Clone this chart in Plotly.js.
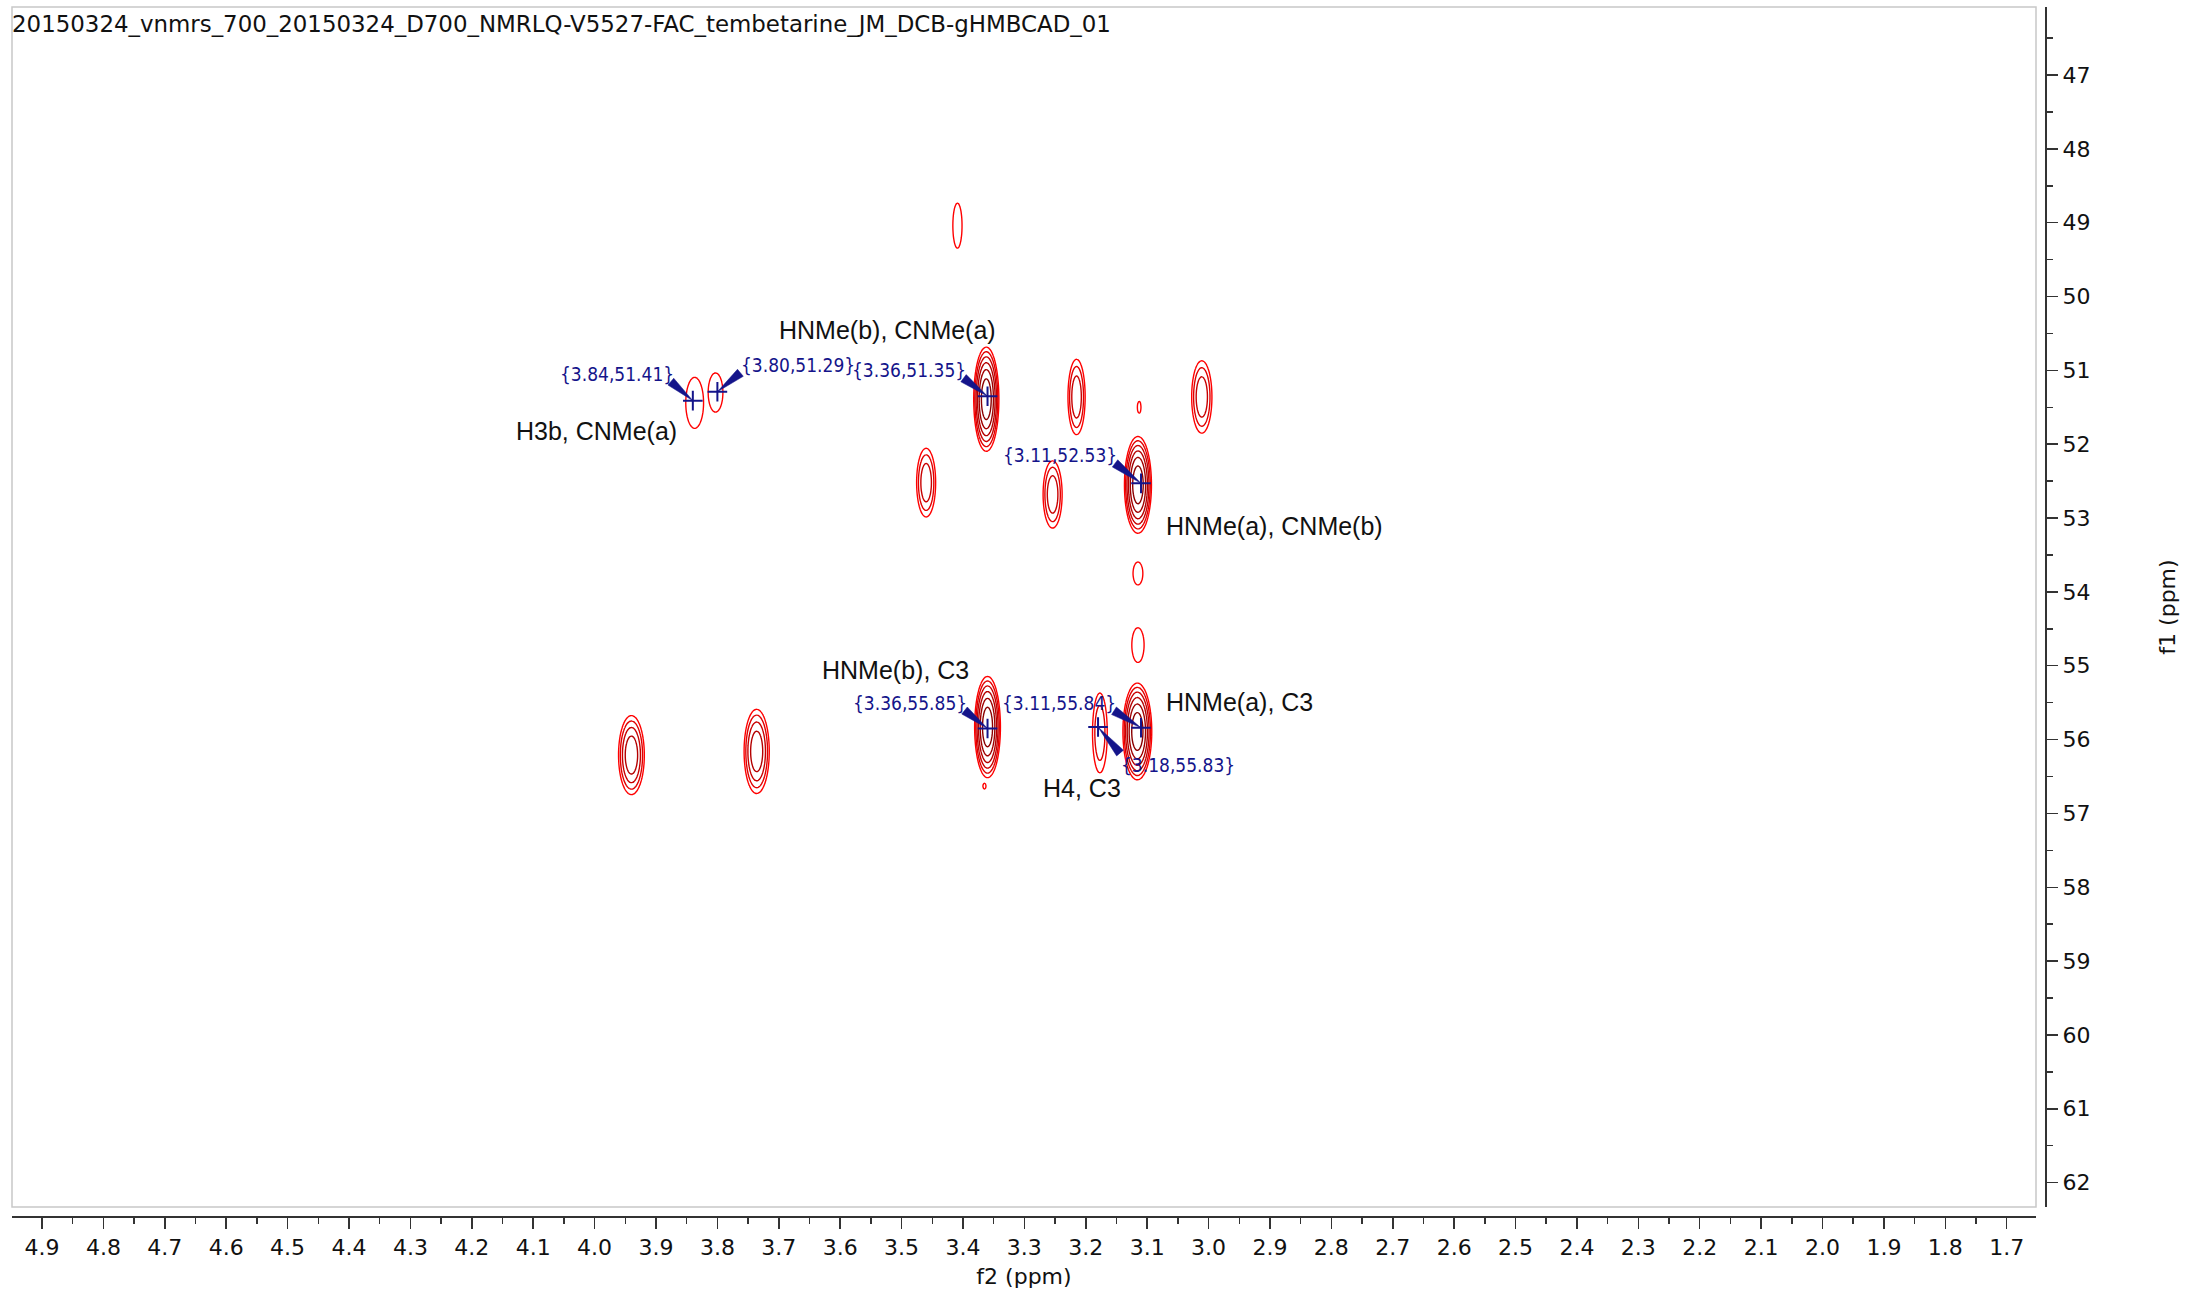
<!DOCTYPE html>
<html><head><meta charset="utf-8">
<script src="https://cdn.plot.ly/plotly-3.0.1.min.js"></script>
<style>html,body{margin:0;padding:0;background:#fff}#chart{width:2186px;height:1296px}</style>
</head><body><div id="chart"></div>
<script>
const titleText = '20150324_vnmrs_700_20150324_D700_NMRLQ-V5527-FAC_tembetarine_JM_DCB-gHMBCAD_01';

// Cross peaks: f2 (ppm), f1 (ppm), number of contour rings,
// outer contour width along f2 and f1 (ppm)
const peakF2      = [3.409, 3.837, 3.803, 3.362, 3.215, 3.011, 3.113, 3.460, 3.254, 3.115, 3.115, 3.115, 3.940, 3.736, 3.360, 3.177, 3.116, 3.365];
const peakF1      = [49.04, 51.44, 51.30, 51.39, 51.36, 51.36, 51.50, 52.52, 52.68, 52.55, 53.75, 54.72, 56.21, 56.16, 55.83, 55.91, 55.89, 56.63];
const peakRings   = [1, 1, 1, 6, 3, 3, 1, 3, 3, 6, 1, 1, 4, 4, 6, 2, 6, 1];
const peakWidthF2 = [0.015, 0.029, 0.024, 0.041, 0.028, 0.033, 0.006, 0.031, 0.031, 0.044, 0.016, 0.020, 0.042, 0.041, 0.042, 0.024, 0.047, 0.005];
const peakWidthF1 = [0.61, 0.69, 0.53, 1.41, 1.02, 0.98, 0.16, 0.93, 0.91, 1.31, 0.31, 0.47, 1.07, 1.14, 1.37, 1.08, 1.31, 0.08];

// Picked peaks (blue crosses with coordinate labels)
const pickF2 = [3.84, 3.80, 3.36, 3.11, 3.36, 3.11, 3.18];
const pickF1 = [51.41, 51.29, 51.35, 52.53, 55.85, 55.84, 55.83];

// Assignment labels
const assignText = ['HNMe(b), CNMe(a)', 'H3b, CNMe(a)', 'HNMe(a), CNMe(b)', 'HNMe(b), C3', 'HNMe(a), C3', 'H4, C3'];
const assignF2   = [3.523, 3.997, 2.892, 3.510, 2.950, 3.206];
const assignF1   = [50.454, 51.823, 53.11, 55.06, 55.494, 56.658];

// ---- styling / placement of pick labels (screen-pixel offset of the pointer tail from the cross,
//      plus a small extra shift of the label text relative to that tail)
const pickStyle = [
  {ax:-22, ay:-19, xa:'right', ya:'bottom', dx: 4, dy: 4},
  {ax: 23, ay:-19, xa:'left',  ya:'bottom', dx: 0, dy: 4},
  {ax:-24, ay:-18, xa:'right', ya:'bottom', dx: 3, dy: 4},
  {ax:-26, ay:-20, xa:'right', ya:'bottom', dx: 3, dy: 4},
  {ax:-23, ay:-18, xa:'right', ya:'bottom', dx: 3, dy: 4},
  {ax:-27, ay:-17, xa:'right', ya:'bottom', dx: 3, dy: 4},
  {ax: 22, ay: 26, xa:'left',  ya:'top',    dx: 0, dy: 0}
];
const wedgeWidth = 9;

// ---- build the contour surface from the peak list (Gaussian line shapes, geometric levels)
const q = 1.5;
const xs = [], ys = [];
for (let x = 2.97; x <= 3.99; x += 0.0015) xs.push(+x.toFixed(4));
for (let y = 48.3; y <= 57.1; y += 0.02) ys.push(+y.toFixed(3));
const amp = peakRings.map(n => Math.pow(q, n - 0.1));
const sx = peakWidthF2.map((w, i) => (w / 2) / Math.sqrt(2 * Math.log(amp[i])));
const sy = peakWidthF1.map((w, i) => (w / 2) / Math.sqrt(2 * Math.log(amp[i])));
const lq = Math.log(q);
const z = ys.map(y => xs.map(x => {
  let best = -20;
  for (let i = 0; i < peakF2.length; i++) {
    const dx = (x - peakF2[i]) / sx[i], dy = (y - peakF1[i]) / sy[i];
    const v = (Math.log(amp[i]) - 0.5 * (dx * dx + dy * dy)) / lq;
    if (v > best) best = v;
  }
  return best;
}));

const navy = '#14148a';
const traces = [
  {
    type: 'contour', x: xs, y: ys, z: z,
    autocontour: false,
    contours: {start: 0, end: 6, size: 1, coloring: 'lines'},
    colorscale: [[0, '#ff0000'], [0.25, '#d80000'], [1, '#8a0000']],
    zmin: 0, zmax: 5, showscale: false,
    line: {width: 1.4, smoothing: 1},
    hoverinfo: 'skip'
  },
  {
    type: 'scatter', mode: 'markers', x: pickF2, y: pickF1,
    marker: {symbol: 'cross-thin', size: 14, line: {width: 2, color: navy}, color: navy},
    hoverinfo: 'skip'
  }
];

const annotations = [];
const shapes = [{
  type: 'rect', xref: 'x domain', yref: 'y domain', x0: 0, x1: 1, y0: 0, y1: 1,
  line: {color: '#c8c8c8', width: 1.5}, fillcolor: 'rgba(0,0,0,0)', layer: 'below'
}];
pickF2.forEach((f2, i) => {
  const st = pickStyle[i];
  annotations.push({
    x: f2, y: pickF1[i], xref: 'x', yref: 'y',
    text: '{' + f2.toFixed(2) + ',' + pickF1[i].toFixed(2) + '}',
    showarrow: false, xshift: st.ax + st.dx, yshift: -(st.ay + st.dy), xanchor: st.xa, yanchor: st.ya,
    borderpad: 0,
    font: {family: 'DejaVu Sans Condensed, Liberation Sans Narrow, Liberation Sans, sans-serif', size: 19, color: navy}
  });
  // tapered pointer from the label corner to the cross (pixel-sized path anchored at the pick)
  const len = Math.hypot(st.ax, st.ay);
  const nx = -st.ay / len * wedgeWidth / 2, ny = st.ax / len * wedgeWidth / 2;
  const p1 = [st.ax + nx, -(st.ay + ny)], p2 = [st.ax - nx, -(st.ay - ny)];
  shapes.push({
    type: 'path', xref: 'x', yref: 'y', xsizemode: 'pixel', ysizemode: 'pixel',
    xanchor: f2, yanchor: pickF1[i],
    path: 'M' + p1[0].toFixed(1) + ',' + p1[1].toFixed(1) + ' L' + p2[0].toFixed(1) + ',' + p2[1].toFixed(1) + ' L0,0 Z',
    fillcolor: navy, line: {width: 0.5, color: navy}, layer: 'above'
  });
});
assignText.forEach((t, i) => {
  annotations.push({
    x: assignF2[i], y: assignF1[i], xref: 'x', yref: 'y', text: t, showarrow: false,
    xanchor: 'center', yanchor: 'middle',
    font: {family: 'Liberation Sans, Arial, sans-serif', size: 25, color: '#111'}
  });
});

const W = 2186, H = 1296;
const L = 12, R = 2046, T = 7, B = 1217;
const layout = {
  width: W, height: H,
  margin: {l: L, r: W - R, t: T, b: H - B, pad: 0},
  paper_bgcolor: '#fff', plot_bgcolor: '#fff',
  showlegend: false,
  font: {family: 'DejaVu Sans, sans-serif', size: 22, color: '#111'},
  title: {
    text: titleText, xref: 'container', yref: 'container',
    x: 12 / W, xanchor: 'left', y: 1 - 24 / H, yanchor: 'middle',
    font: {family: 'DejaVu Sans, sans-serif', size: 22.9, color: '#111'}
  },
  xaxis: {
    range: [4.9489, 1.6523], domain: [0, (2036 - L) / (R - L)],
    anchor: 'free', position: 0,
    showgrid: false, zeroline: false,
    showline: true, linecolor: '#333', linewidth: 2,
    ticks: 'outside', ticklen: 11, tickwidth: 1.5, tickcolor: '#333',
    dtick: 0.1, tick0: 0, tickformat: '.1f',
    minor: {dtick: 0.05, ticks: 'outside', ticklen: 6, tickwidth: 1.5, tickcolor: '#333', showgrid: false},
    tickfont: {family: 'DejaVu Sans, sans-serif', size: 22, color: '#111'},
    title: {text: 'f2 (ppm)', standoff: 8, font: {family: 'DejaVu Sans, sans-serif', size: 22, color: '#111'}}
  },
  yaxis: {
    range: [62.33, 46.079], domain: [(B - 1207) / (B - T), 1],
    anchor: 'free', position: 1, side: 'right',
    showgrid: false, zeroline: false,
    showline: true, linecolor: '#333', linewidth: 2,
    ticks: 'outside', ticklen: 11, tickwidth: 1.5, tickcolor: '#333',
    dtick: 1, tick0: 0,
    minor: {dtick: 0.5, ticks: 'outside', ticklen: 6, tickwidth: 1.5, tickcolor: '#333', showgrid: false},
    tickfont: {family: 'DejaVu Sans, sans-serif', size: 22, color: '#111'},
    title: {text: 'f1 (ppm)', standoff: 69, font: {family: 'DejaVu Sans, sans-serif', size: 22, color: '#111'}}
  },
  shapes: shapes,
  annotations: annotations
};

Plotly.newPlot('chart', traces, layout, {displayModeBar: false, staticPlot: true});
</script>
</body></html>
